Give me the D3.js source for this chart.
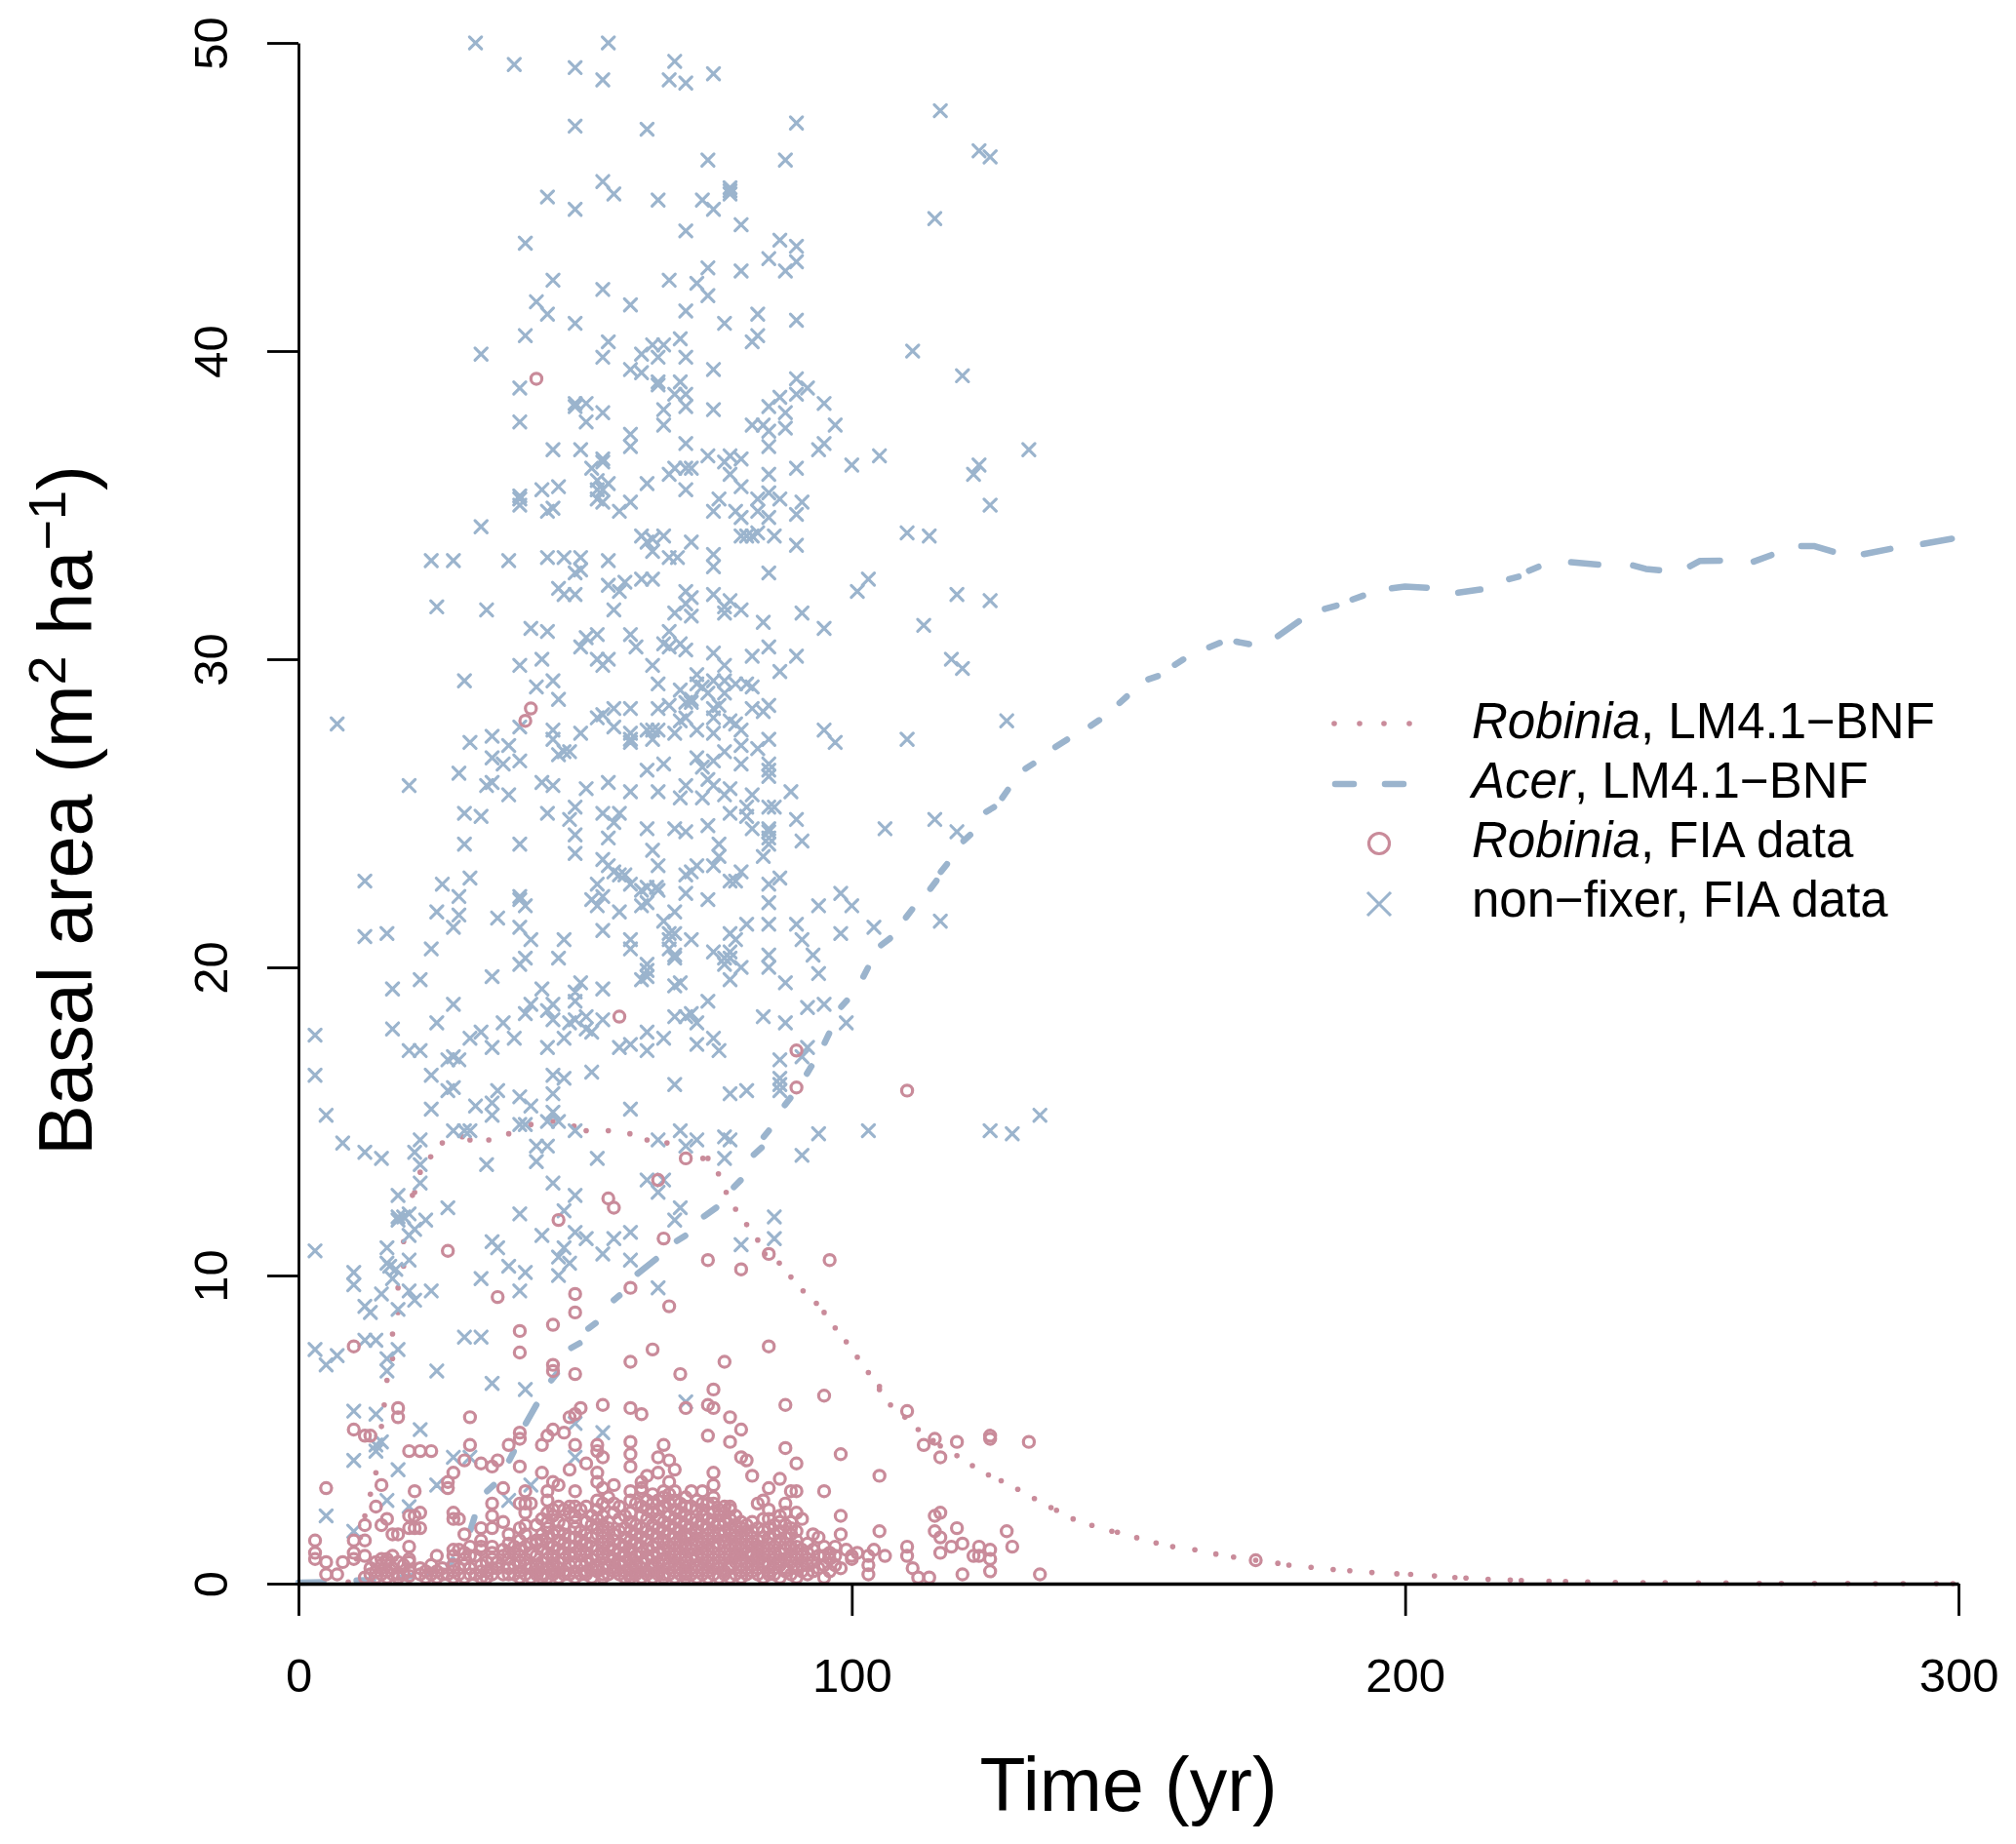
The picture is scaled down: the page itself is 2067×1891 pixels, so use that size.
<!DOCTYPE html>
<html>
<head>
<meta charset="utf-8">
<script src="https://cdn.jsdelivr.net/npm/d3@7"></script>
<style>
  html, body { margin: 0; padding: 0; background: #fff; }
  text { font-family: "Liberation Sans", Arial, sans-serif; fill: #000; }
</style>
</head>
<body>
<div id="chart"></div>
<script>
const xTicks = [0, 100, 200, 300];
const yTicks = [0, 10, 20, 30, 40, 50];

// non-fixer FIA plots, [year, basal area]
const nonfixerFIA = [
  [32,50],[39,49.3],[50,49.2],[55,48.8],[56,50],[68,49.4],[67,48.8],[70,48.7],[50,47.3],[63,47.2],
  [55,45.5],[57,45.1],[45,45],[50,44.6],[65,44.9],[70,43.9],[41,43.5],[46,42.3],[67,42.3],[55,42],
  [43,41.6],[45,41.2],[60,41.5],[70,41.3],[50,40.9],[41,40.5],[33,39.9],[56,40.3],[55,39.8],[69,40.4],
  [64,40.2],[66,40.2],[65,39.8],[70,39.8],[62,39.9],[60,39.4],[62,39.3],[65,39],[65,38.9],[69,39],
  [40,38.8],[68,38.6],[70,38.6],[70,38.2],[50,38.3],[50,38.2],[52,38.3],[55,38],[52,37.7],[66,38.1],
  [66,37.6],[40,37.7],[60,37.3],[60,36.9],[46,36.8],[51,36.8],[70,37],[55,36.5],[55,36.4],[53,36.2],
  [67,36],[68,36.2],[70,36.2],[63,35.7],[70,35.5],[47,35.6],[44,35.5],[40,35.3],[40,35.2],[40,35],
  [45,34.8],[46,34.9],[54,35.8],[56,35.7],[54,35.5],[55,35.5],[54,35.2],[55,35.1],[60,35.1],[58,34.8],
  [33,34.3],[62,34],[63,33.8],[64,33.9],[66,34],[64,33.5],
  [75,49],[116,47.8],[90,47.4],[74,46.2],[88,46.2],[123,46.5],[125,46.3],[78,45.3],[78,45.2],[78,45.1],
  [73,44.9],[75,44.6],[115,44.3],[80,44.1],[87,43.6],[90,43.4],[85,43],[90,42.9],[88,42.6],[74,42.7],
  [80,42.6],[72,42.2],[74,41.8],[83,41.2],[77,40.9],[90,41],[83,40.5],[82,40.3],[111,40],[75,39.4],
  [120,39.2],[90,39.1],[90,38.6],[92,38.8],[87,38.5],[85,38.2],[88,38],[95,38.3],[75,38.1],[82,37.6],
  [84,37.6],[85,37.4],[88,37.5],[97,37.6],[85,36.9],[95,37],[94,36.8],[74,36.6],[78,36.6],[77,36.4],
  [80,36.5],[90,36.2],[85,36],[71,36.2],[100,36.3],[105,36.6],[132,36.8],[123,36.3],[122,36],[78,36],
  [80,35.6],[85,35.4],[83,35.2],[87,35.2],[91,35.1],[76,35.2],[75,34.8],[79,34.8],[80,34.6],[83,34.8],
  [85,34.6],[90,34.7],[125,35],[80,34],[81,34],[82,34],[83,34.1],[86,34],[90,33.7],[110,34.1],[114,34],
  [71,33.8],[75,33.4],
  [24,33.2],[28,33.2],[38,33.2],[45,33.3],[48,33.3],[51,33.3],[56,33.2],[67,33.3],[68.5,33.3],
  [25,31.7],[34,31.6],[47,32.3],[48,32.1],[50,32.1],[50,32.8],[51,32.9],[56,32.4],[59,32.5],[58,32.2],
  [62,32.6],[64,32.6],[57,31.6],[68,31.5],[70,31.8],[70,32.2],[42,31],[45,30.9],[52,30.7],[54,30.8],
  [51,30.4],[60,30.8],[61,30.4],[67,30.9],[66,30.5],[67,30.4],[69,30.5],[70,30.3],[44,30],[40,29.8],
  [54,30],[56,30],[55,29.8],[64,29.8],[30,29.3],[46,29.3],[43,29.1],[47,28.7],[65,29.2],[69,29],
  [70,28.6],[57,28.4],[60,28.4],[54,28.1],[55,28.2],[65,28.4],[67,28.5],[7,27.9],[40,27.8],[57,27.8],
  [46,27.7],[51,27.6],[68,27.6],[69,28],[70,28.1],[60,27.6],[60,27.4],[60,27.3],[63,27.7],[64,27.7],
  [65,27.7],[64,27.4],[35,27.5],[31,27.3],[38,27.2],[46,27.4],[47,26.9],[48,27],[49,27],[35,26.8],
  [37,26.6],[40,26.7],[63,26.4],[66,26.6],[29,26.3],[56,26],[20,25.9],[34,25.9],[35,26],[44,26],
  [46,25.9],[52,25.8],[60,25.7],[65,25.7],[69,25.5],[70,25.9],[38,25.6],[30,25],[33,24.9],[45,25],
  [50,25.2],[49,24.8],[55,25],[58,25],[57,24.7],[50,24.3],[56,24.2],[63,24.5],[68,24.5],[70,24.4],
  [30,24],[40,24],[50,23.7],[64,23.8],[65,23.3],[55,23.5],[56,23.3],[57,23.1],[59,23],[58,23],
  [12,22.8],[31,22.9],[26,22.7],[60,22.7],[54,22.7],[62,22.5],[63,22.6],[64.7,22.6],[65,22.5],[70,23],
  [70,22.4],[29,22.3],[40,22.3],[40,22.2],[41,22],[53,22.2],[55,22.3],[54,22],[25,21.8],[29,21.7],
  [36,21.6],[58,21.8],[62,22],[63,22.1],[68,21.8],[28,21.3],[40,21.3],[42,20.9],[48,20.9],[55,21.2],
  [66,21.5],[67,21.1],[68,21.1],[12,21],[16,21.1],[60,20.9],[60,20.6],[67,20.9],[67,20.6],[24,20.6],
  [41,20.3],[40,20.1],[47,20.3],[68,20.4],[68,20.3],[63,20.1],[63,19.9],[62,19.6],[63,19.7],[22,19.6],
  [17,19.3],[35,19.7],[44,19.3],[51,19.5],[50,19.2],[55,19.3],[68,19.4],[69,19.5],[28,18.8],[50,18.9],
  [41,18.5],[42,18.8],[45,18.6],[46,18.8],[46,18.3],[25,18.2],[37,18.2],[17,18],[49,18.2],[50,18.3],
  [52,18.4],[52,18],[53,17.9],[55,18.3],[68,18.4],[70,18.4],[3,17.8],[33,17.9],[31,17.7],[39,17.7],
  [48,17.7],[20,17.3],[22,17.3],[27,17],[28,17.1],[29,17],[35,17.4],[45,17.4],[63,17.9],[66,17.7],
  [58,17.4],[60,17.5],[63,17.3],
  [75,33],[85,32.8],[103,32.6],[101,32.2],[119,32.1],[125,31.9],[71,32],[75,32.1],[78,31.9],[77,31.7],
  [80,31.6],[77,31.5],[71,31.4],[84,31.2],[91,31.5],[95,31],[113,31.1],[75,30.2],[82,30.1],[85,30.4],
  [90,30.1],[87,29.6],[118,30],[120,29.7],[77,29.8],[72,29.5],[75,29.3],[72,29.2],[77,29.3],[73,29.1],
  [79,29.2],[81,29.2],[82,29.1],[77,28.9],[74,28.9],[71,28.7],[71,28.6],[76,28.5],[75,28.4],[85,28.5],
  [82,28.4],[84,28.3],[128,28],[95,27.7],[97,27.3],[110,27.4],[75,28.1],[78,28],[79,27.9],[80,27.7],
  [72,27.7],[75,27.6],[85,27.4],[83,27.1],[80,27.2],[80,26.6],[77,27],[75,26.7],[72,26.8],[73,26.5],
  [85,26.6],[85,26.4],[85,26.2],[74,26.1],[75,25.9],[78,25.8],[77,25.6],[73,25.5],[82,25.6],[89,25.7],
  [85,25.2],[86,25.2],[78,25],[81,25.2],[81,24.9],[82,24.5],[90,24.8],[74,24.6],[115,24.8],[119,24.4],
  [106,24.5],[85,24.5],[85,24.4],[85,24.2],[85,24],[91,24.1],[76,24],[84,23.6],[76,23.6],[75,23.3],
  [72,23.3],[71,23.1],[80,23.1],[78,22.8],[79,22.8],[87,22.9],[85,22.7],[74,22.2],[85,22.1],[94,22],
  [98,22.4],[100,22],[116,21.5],[85,21.4],[90,21.4],[81,21.4],[78,21.1],[79,20.9],[91,20.9],[98,21.1],
  [104,21.3],[71,20.9],[75,20.5],[78,20.5],[77,20.3],[78,20.3],[77,20.1],[80,20],[78,19.6],[85,20.4],
  [85,20],[93,20.4],[94,19.8],[88,19.5],[74,18.9],[71,18.5],[72,18.2],[84,18.4],[92,18.7],[95,18.8],
  [88,18.2],[99,18.2],[75,17.7],[72,17.5],[76,17.3],[92,17.4],[87,17],[91,17.1],
  [3,16.5],[24,16.5],[27,16],[28,16.1],[36,16],[35,15.6],[35,15.2],[32,15.5],[24,15.4],[5,15.2],
  [40,15.8],[42,15.5],[46,15.9],[46,15.3],[45,15],[47,15],[60,15.4],[48,16.4],[46,16.5],[68,16.2],
  [53,16.6],[40,14.9],[41,14.9],[50,14.7],[28,14.7],[30,14.7],[31,14.7],[69,14.7],[8,14.3],[12,14],
  [15,13.8],[22,14.4],[21,14],[22,13.6],[34,13.6],[43,14.2],[45,14.2],[43,13.7],[54,13.8],[65,14.4],
  [70,14.2],[22,13],[63,13.1],[66,13.1],[65,12.7],[46,13],[50,12.6],[18,12.6],[27,12.2],[40,12],
  [48,12.1],[69,12.2],[68,11.8],[18,11.9],[18,11.8],[19,11.9],[20,12],[23,11.8],[21,11.5],[20,11.3],
  [16,10.9],[35,11.1],[36,10.9],[44,11.3],[50,11.4],[52,11.2],[57,11.2],[60,11.4],[55,10.7],[3,10.8],
  [20,10.5],[16,10.4],[16.5,10.3],[17.6,10.2],[48,10.9],[47,10.6],[49,10.4],[47,10],[60,10.5],[38,10.3],
  [41,10.1],[10,10.1],[10,9.7],[17,9.9],[33,9.9],[40,9.5],[24,9.5],[20,9.5],[21,9.2],[15,9.4],
  [12,9],[13,8.8],[18,8.9],[65,9.6],[12,7.9],[14,7.9],[30,8],[33,8],[18,7.6],[3,7.6],
  [5,7.1],[7,7.4],[16,7.3],[16,6.9],[25,6.9],[35,6.5],[41,6.3],[10,5.6],[14,5.5],[22,5],
  [55,4.9],[50,5.2],[14,4.5],[15,4.6],[14,4.3],[10,4],[18,3.7],[28,4.1],[31,4.1],[50,4.1],
  [25,3.2],[42,3.2],[16,2.7],[38,2.7],[5,2.2],[20,2.5],[10,1.7],[70,5.9],
  [87,16.4],[87,16.2],[87,16],[78,15.9],[81,16],[103,14.7],[125,14.7],[129,14.6],[134,15.2],[94,14.6],
  [72,14.4],[77,14.5],[78,14.4],[91,13.9],[77,13.8],[86,11.9],[86,11.2],[80,11]
];

// Robinia FIA plots, [year, basal area]
const robiniaFIA = [
  [43,39.1],[42,28.4],[41,28],[58,18.4],[90,17.3],[90,16.1],[110,16],[70,13.8],[65,13.1],[56,12.5],
  [57,12.2],[47,11.8],[66,11.2],[27,10.8],[60,9.6],[67,9],[36,9.3],[50,9.4],[50,8.8],[46,8.4],
  [40,8.2],[40,7.5],[64,7.6],[10,7.7],[60,7.2],[69,6.8],[46,7.1],[46,6.9],[50,6.8],[18,5.7],
  [18,5.4],[55,5.8],[60,5.7],[62,5.5],[51,5.7],[50,5.5],[49,5.4],[31,5.4],[70,5.7],[10,5],
  [12,4.8],[13,4.8],[46,5],[48,4.9],[45,4.8],[44,4.5],[40,4.9],[40,4.7],[38,4.5],[31,4.5],
  [50,4.5],[54,4.5],[54,4.3],[55,4.1],[60,4.6],[60,4.2],[66,4.5],[65,4.1],[67,4],[20,4.3],
  [22,4.3],[24,4.3],[30,4],[33,3.9],[35,3.8],[36,4],[40,3.8],[49,3.7],[52,3.9],[60,3.8],
  [68,3.7],[28,3.6],[27,3.3],[27,3.1],[44,3.6],[54,3.6],[54,3.3],[65,3.6],[63,3.5],[62,3.3],
  [62,3.1],[67,3.3],[5,3.1],[15,3.2],[21,3],[37,3.1],[46,3.3],[47,3.2],[41,3],[45,3],
  [55,3.1],[57,3.2],[66,3],[14,2.5],[35,2.6],[45,2.7],[40,2.6],[41,2.6],[42,2.6],[41,2.3],
  [35,2.2],[37,2],[35,1.8],[33,1.8],[30,1.6],[28,2.3],[28,2.1],[29,2.1],[22,2.3],[21,2.2],
  [20,2.2],[16,2.1],[15,1.9],[20,1.8],[21,1.8],[22,1.8],[18,1.6],[17,1.6],[12,1.9],[12,1.4],
  [10,1.4],[3,1.4],[20,1.2],[12,.9],[10,1],[3,1],[3,.8],[5,.7],[8,.7],[10,.8],
  [25,.9],[20,.8],[15,.8],[16,.8],[17,.9],[28,1.1],[29,1.1],[31,1.2],[33,1.4],[33,1.2],
  [35,1.2],[35,1],[40,1.8],[40,1.4],[43,1.4],[43,1.3],[5,.3],[7,.3],[12,.2],[20,.25],
  [74,10.5],[80,10.2],[85,10.7],[96,10.5],[85,7.7],[77,7.2],[75,6.3],[74,5.8],[75,5.7],[88,5.8],
  [95,6.1],[78,5.4],[80,5],[74,4.8],[78,4.6],[88,4.4],[80,4.1],[81,4],[98,4.2],[90,3.9],
  [82,3.5],[75,3.6],[105,3.5],[87,3.4],[75,3.2],[73,3],[71,3],[85,3.1],[95,3],[89,3],
  [90,3],[110,5.6],[115,4.7],[113,4.5],[119,4.6],[125,4.8],[125,4.7],[132,4.6],[116,4.1],[84,2.7],
  [83,2.6],[88,2.6],[90,2.3],[91,2.1],[85,2.1],[98,2.2],[98,1.6],[93,1.6],[94,1.5],[105,1.7],
  [115,2.2],[116,2.3],[115,1.7],[119,1.8],[128,1.7],[116,1.5],[129,1.2],[120,1.3],[123,1.2],[125,1.1],
  [118,1.2],[116,1],[110,1.2],[110,.9],[106,.9],[104,1.1],[103,.9],[101,1],[100,.9],[100,.8],
  [99,1.1],[97,1.2],[97,.9],[95,1.2],[92,1.3],[90,1.2],[122,.9],[123,.9],[125,.8],[125,.4],
  [120,.3],[134,.3],[103,.6],[103,.3],[98,.5],[111,.5],[112,.2],[114,.2],[95,.6],[95,.2],
  [92,.3],[90,.2],[77,2.5],[78,2.5],[75,2.8],[75,2.6],[73,2.6],[173,.76]
];

// the crowded band just above the axis: [year, [basal areas]]
const robiniaDense = [
  [13,[.3,.5]],[14,[.2,.4,.7]],[15,[.3,.6]],[16,[.2,.4,.7]],[17,[.3,.5]],[18,[.2,.3,.7]],[19,[.3,.6]],
  [20,[.4,.7]],[22,[.3,.5]],[23,[.2,.4]],[24,[.3,.6]],[25,[.2,.4]],[26,[.3,.5]],[27,[.3]],
  [28,[.2,.4,.6,.9]],[29,[.3,.5]],[30,[.2,.6,.8,1]],[31,[.3,.5,.9]],[32,[.3,.9]],[33,[.2,.4,.6,1.1]],
  [34,[.2,.4,.7]],[35,[.3,.5,.8]],[36,[.5,.7]],[37,[.3,.9,1.1]],
  [38,[.3,.5,.8,1,1.3,1.6]],[39,[.3,.6,1,1.2]],[40,[.2,.4,.7,.9,1.1]],[41,[.3,.6,.8,1.2,1.6,1.9]],
  [42,[.2,.5,1,1.3]],[43,[.3,.4,.6,.9,1.9]],[44,[.2,.3,.5,.7,1.1,1.4,1.6,2.1]],
  [45,[.2,.5,.8,1,1.3,1.5,1.8,2,2.3]],[46,[.3,.4,.6,.9,1.2,1.6,2.2,2.4]],[47,[.2,.5,.7,1.1,1.4,1.7,2,2.5]],
  [48,[.3,.4,.8,1,1.3,1.6,1.9,2.4]],[49,[.3,.6,.9,1.2,1.5,2.3,2.5]],[50,[.2,.4,.7,1,1.2,1.5,1.8,2,2.2,2.5,3]],
  [51,[.3,.6,.9,1.1,1.4,1.7,2.4]],[52,[.3,.4,.7,1,1.3,1.6,2,2.5]],[53,[.2,.5,.8,1.2,1.5,1.9,2.2]],
  [54,[.4,.6,.9,1.1,1.6,1.8,2.1,2.4,2.7]],[55,[.2,.3,.5,.8,1,1.3,1.5,1.7,1.9,2.2,2.6]],
  [56,[.3,.6,.9,1.2,1.4,1.8,2,2.8]],[57,[.4,.5,.8,1.1,1.4,1.6,2.3,2.6]],[58,[.3,.6,.7,1,1.3,1.7,2.1,2.5]],
  [59,[.2,.4,.7,.9,1.2,1.5,1.8,2.2]],[60,[.2,.3,.5,.8,1,1.1,1.4,1.7,2,2.3,2.7,3]],
  [61,[.3,.4,.6,.9,1.3,1.6,1.9,2.6]],[62,[.2,.5,.7,1,1.2,1.5,1.8,2.2,2.5,3]],
  [63,[.3,.4,.8,1.1,1.4,1.7,2.1,2.4,2.7]],[64,[.2,.5,.6,.9,1.2,1.6,1.9,2.3,2.6,2.9]],
  [65,[.3,.4,.7,1,1.3,1.5,1.8,2.1,2.4,2.7]],[66,[.2,.3,.6,.8,1.1,1.4,1.7,2,2.5,2.8]],
  [67,[.3,.5,.7,1,1.2,1.6,1.9,2.2,2.6,2.9]],[68,[.2,.4,.6,.9,1.1,1.3,1.5,1.8,2.1,2.4,2.7,3]],
  [69,[.3,.5,.8,1,1.2,1.4,1.7,2,2.3,2.6]],[70,[.2,.3,.4,.7,.9,1.2,1.5,1.6,1.9,2.2,2.5,2.8]],
  [71,[.3,.5,.8,1.1,1.3,1.6,1.8,2.1,2.5]],[72,[.2,.4,.6,.9,1.2,1.4,1.7,2,2.4,2.7]],
  [73,[.3,.5,.8,1,1.3,1.5,1.9,2.2,2.4]],[74,[.2,.4,.7,.9,1.1,1.4,1.6,1.8,2.1,2.6]],
  [75,[.3,.6,.8,1,1.2,1.5,1.7,2,2.3]],[76,[.2,.5,.7,.9,1.3,1.6,1.9,2.2,2.4]],
  [77,[.3,.4,.8,1,1.2,1.4,1.7,2,2.3]],[78,[.2,.5,.6,.9,1.1,1.3,1.6,1.8,2.1,2.4]],
  [79,[.3,.7,.9,1,1.2,1.5,1.7,1.9,2.2]],[80,[.2,.4,.6,.8,1.1,1.3,1.5,1.8,2]],
  [81,[.3,.5,.7,1,1.2,1.4,1.6,1.9]],[82,[.4,.6,.9,1,1.3,1.5,1.7,2]],[83,[.3,.5,.8,1.1,1.2,1.4,1.8]],
  [84,[.2,.6,.7,1,1.2,1.5,1.7,2.1]],[85,[.3,.4,.6,.9,1.1,1.3,1.5,1.8,2.4]],[86,[.3,.5,.8,1,1.2,1.6,1.9]],
  [87,[.2,.6,.7,1,1.4,1.7,2,2.2]],[88,[.4,.5,.8,1.1,1.3,1.5,1.9,2.3]],[89,[.3,.7,.9,1.2,1.6,1.8,2]],
  [90,[.5,.8,1,1.4,1.7]],[91,[.4,.6,.9,1.1]],[92,[.6,.8,1]],[93,[.4,.7,1.1]],[94,[.5,.9]],[95,[.9]],
  [96,[.4,.8,1]],[97,[.6]]
];

// LM4.1-BNF Robinia curve as the separate dots of its dotted line
const robiniaLine = [
  [9,.05],[10.5,.8],[11.2,1.5],[12,2.2],[13,2.9],[14,3.6],[15,5.1],[15.5,5.8],[16,6.6],[17,7.3],[17,8.1],
  [18,8.8],[18,9.6],[19,10.3],[19,11.1],[20.6,12.6],[21,12.7],[22,13.35],[23.9,13.85],[26,14.3],
  [29.6,14.5],[31,14.4],[34.4,14.4],[38,14.6],[42,14.9],[46,15],[49.8,14.85],[52,14.7],[56,14.7],
  [59.9,14.6],[63,14.4],[66.6,14.3],[73.1,13.8],[74,13.8],[75.9,13.3],[77.3,12.7],[79,12.15],[81,11.65],
  [83,11.15],[84.3,10.7],[86.9,10.4],[89,9.95],[91.2,9.5],[93.6,9.1],[95,8.8],[97,8.3],[99,7.85],
  [101,7.35],[103,6.85],[105,6.4],[105,6.3],[107,5.8],[109.6,5.4],[112,5],[114.7,4.64],[116,4.47],
  [119,4.15],[121.8,3.83],[124.7,3.53],[127,3.34],[130,3.06],[133,2.76],[136,2.47],[137,2.38],[140,2.1],
  [143.4,1.89],[147,1.7],[148,1.67],[151.5,1.49],[155,1.32],[158,1.2],[162,1.1],[165.8,.96],[169,.86],
  [173,.76],[177,.66],[179,.6],[183,.53],[187,.46],[190,.42],[194,.36],[198.5,.32],[201,.3],[205.3,.25],
  [209,.2],[211,.18],[215,.14],[219,.12],[221,.1],[226,.08],[229,.07],[233,.05],[238,.04],[243,.03],
  [247,.03],[253,.02],[258,.02],[264,.01],[268,.01],[274,.01],[280,.01],[285,0],[290,0],[296,0],[299,0]
];

// LM4.1-BNF Acer curve, one list per visible dash
const acerDashes = [
  [[0,.03],[4.5,.05]],[[10.5,.1],[13.5,.12]],[[18.5,.2],[20.5,.25]],[[23.4,.37],[24.6,.43]],
  [[27.1,.6],[27.9,.78]],[[31.1,1.75],[31.8,2.15]],[[34.1,3],[35.3,3.2]],[[38.1,4],[38.9,4.28]],
  [[41.1,5.2],[43,5.8]],[[45.7,6.6],[46.7,6.82]],[[49.3,7.65],[50.8,7.8]],[[52.4,8.28],[53.7,8.45]],
  [[57,9.2],[58,9.35]],[[61.3,10.06],[64.6,10.53]],[[68.4,11.12],[69.9,11.29]],[[73.3,11.92],[75.5,12.2]],
  [[78.7,12.87],[79.9,13.09]],[[82.3,13.92],[83.7,14.15]],[[84.1,14.5],[85,14.7]],[[87.9,15.53],[88.9,15.76]],
  [[91.9,16.55],[92.7,16.79]],[[95.1,17.55],[95.9,17.85]],[[98.1,18.72],[99.1,18.92]],[[102.1,19.7],[102.9,19.98]],
  [[105.3,20.72],[106.9,20.94]],[[109.8,21.62],[110.9,21.88]],[[114.2,22.55],[115.3,22.81]],[[116.1,23.1],[117.2,23.35]],
  [[120.2,24.1],[121.4,24.3]],[[124.3,25.05],[125.7,25.2]],[[127.2,25.5],[128.2,25.76]],[[131.4,26.45],[132.8,26.61]],
  [[136.8,27.15],[138.9,27.39]],[[143.2,27.84],[144.7,28.02]],[[148.4,28.58],[149.7,28.79]],[[153.6,29.35],[155.3,29.45]],
  [[158.4,29.82],[159.9,29.99]],[[164.6,30.39],[166.5,30.53]],[[169.5,30.57],[171.8,30.49]],
  [[177,30.75],[178.8,30.98],[180.8,31.23]],[[185.5,31.63],[187.6,31.74]],[[190.5,31.94],[192.4,32.06]],
  [[197.6,32.3],[200,32.36],[203.9,32.32]],[[209.6,32.16],[213.6,32.26]],[[218.8,32.6],[220.5,32.68]],
  [[222.4,32.87],[224.1,33]],[[230,33.15],[234.9,33.07]],[[241.2,33.04],[243.5,32.93],[245.9,32.89]],
  [[251.5,33.02],[253.3,33.19],[256.9,33.2]],[[263,33.17],[266.2,33.38]],[[271.6,33.67],[274,33.67],[277.3,33.49]],
  [[282.9,33.41],[287.7,33.58]],[[293.6,33.74],[298.8,33.91]]
];

const pink = '#c98b9a';
const blue = '#9bb4cd';

const width = 2067, height = 1891;
const margin = { top: 44, right: 59, bottom: 267, left: 306 };
const plotW = width - margin.left - margin.right;
const plotH = height - margin.top - margin.bottom;

const svg = d3.select('#chart')
    .append('svg')
    .attr('width', width)
    .attr('height', height)
    .style('display', 'block');

const g = svg.append('g')
    .attr('transform', 'translate(' + margin.left + ',' + margin.top + ')');

const x = d3.scaleLinear().domain([0, 300]).range([0, plotW]);
const y = d3.scaleLinear().domain([0, 50]).range([plotH, 0]);

// model curves
g.selectAll('.robinia-dot')
    .data(robiniaLine)
    .join('circle')
    .attr('class', 'robinia-dot')
    .attr('cx', d => x(d[0]))
    .attr('cy', d => y(d[1]))
    .attr('r', 2.8)
    .attr('fill', pink);

const line = d3.line()
    .x(d => x(d[0]))
    .y(d => y(d[1]));

g.selectAll('.acer-dash')
    .data(acerDashes)
    .join('path')
    .attr('class', 'acer-dash')
    .attr('d', line)
    .attr('fill', 'none')
    .attr('stroke', blue)
    .attr('stroke-width', 6.5)
    .attr('stroke-linecap', 'round')
    .attr('stroke-linejoin', 'round');

// FIA data
const crossPath = (s) => 'M' + (-s) + ',' + (-s) + 'L' + s + ',' + s + 'M' + (-s) + ',' + s + 'L' + s + ',' + (-s);

g.selectAll('.nonfixer')
    .data(nonfixerFIA)
    .join('path')
    .attr('class', 'nonfixer')
    .attr('transform', d => 'translate(' + x(d[0]) + ',' + y(d[1]) + ')')
    .attr('d', crossPath(6.2))
    .attr('fill', 'none')
    .attr('stroke', blue)
    .attr('stroke-width', 3.1)
    .attr('stroke-linecap', 'round');

const robiniaAll = robiniaFIA.concat(robiniaDense.flatMap(d => d[1].map(v => [d[0], v])));

g.selectAll('.robinia')
    .data(robiniaAll)
    .join('circle')
    .attr('class', 'robinia')
    .attr('cx', d => x(d[0]))
    .attr('cy', d => y(d[1]))
    .attr('r', 5.6)
    .attr('fill', 'none')
    .attr('stroke', pink)
    .attr('stroke-width', 3.2);

// axes
const xAxis = g.append('g')
    .attr('transform', 'translate(0,' + plotH + ')')
    .call(d3.axisBottom(x).tickValues(xTicks).tickSize(33).tickSizeOuter(0).tickFormat(d3.format('d')));

const yAxis = g.append('g')
    .call(d3.axisLeft(y).tickValues(yTicks).tickSize(32).tickSizeOuter(0).tickFormat(d3.format('d')));

xAxis.selectAll('line').attr('stroke', '#000').attr('stroke-width', 2.8);
xAxis.select('path').attr('stroke', '#000').attr('stroke-width', 3.4);
yAxis.selectAll('path, line').attr('stroke', '#000').attr('stroke-width', 2.8);

xAxis.selectAll('text')
    .attr('y', 111)
    .attr('dy', 0)
    .style('font-size', '49px')
    .style('font-family', '"Liberation Sans"');

yAxis.selectAll('text')
    .attr('x', 0)
    .attr('y', -73)
    .attr('dy', 0)
    .attr('transform', 'rotate(-90)')
    .style('text-anchor', 'middle')
    .style('font-size', '49px')
    .style('font-family', '"Liberation Sans"');

// axis titles
svg.append('text')
    .attr('x', margin.left + plotW / 2)
    .attr('y', 1857)
    .style('text-anchor', 'middle')
    .style('font-size', '77px')
    .text('Time (yr)');

const yLabel = svg.append('text')
    .attr('transform', 'translate(94,' + (margin.top + plotH / 2 - 3) + ') rotate(-90)')
    .style('text-anchor', 'middle')
    .style('font-size', '77.5px');
yLabel.append('tspan').text('Basal area (m');
yLabel.append('tspan').attr('dy', -27).style('font-size', '54px').text('2');
yLabel.append('tspan').attr('dy', 27).text(' ha');
yLabel.append('tspan').attr('dy', -27).style('font-size', '54px').text('\u22121');
yLabel.append('tspan').attr('dy', 27).text(')');

// legend
const legendItems = [
  { italic: 'Robinia', rest: ', LM4.1\u2212BNF' },
  { italic: 'Acer', rest: ', LM4.1\u2212BNF' },
  { italic: 'Robinia', rest: ', FIA data' },
  { italic: '', rest: 'non\u2212fixer, FIA data' }
];
const legendX = 1509, legendBase = 757, legendStep = 61;

const legendText = svg.selectAll('.legend-text')
    .data(legendItems)
    .join('text')
    .attr('class', 'legend-text')
    .attr('x', legendX)
    .attr('y', (d, i) => legendBase + i * legendStep)
    .style('font-size', '51px');
legendText.append('tspan').style('font-style', 'italic').text(d => d.italic);
legendText.append('tspan').text(d => d.rest);

svg.selectAll('.legend-dot')
    .data([1368, 1394, 1419, 1445])
    .join('circle')
    .attr('class', 'legend-dot')
    .attr('cx', d => d)
    .attr('cy', 742)
    .attr('r', 2.8)
    .attr('fill', pink);

svg.selectAll('.legend-dash')
    .data([[1369, 1388], [1420, 1439]])
    .join('line')
    .attr('class', 'legend-dash')
    .attr('x1', d => d[0])
    .attr('x2', d => d[1])
    .attr('y1', 804)
    .attr('y2', 804)
    .attr('stroke', blue)
    .attr('stroke-width', 6.5)
    .attr('stroke-linecap', 'round');

svg.append('circle')
    .attr('cx', 1414)
    .attr('cy', 865)
    .attr('r', 10.5)
    .attr('fill', 'none')
    .attr('stroke', pink)
    .attr('stroke-width', 3.2);

svg.append('path')
    .attr('transform', 'translate(1414,927)')
    .attr('d', crossPath(12))
    .attr('fill', 'none')
    .attr('stroke', blue)
    .attr('stroke-width', 3.1);
</script>
</body>
</html>
